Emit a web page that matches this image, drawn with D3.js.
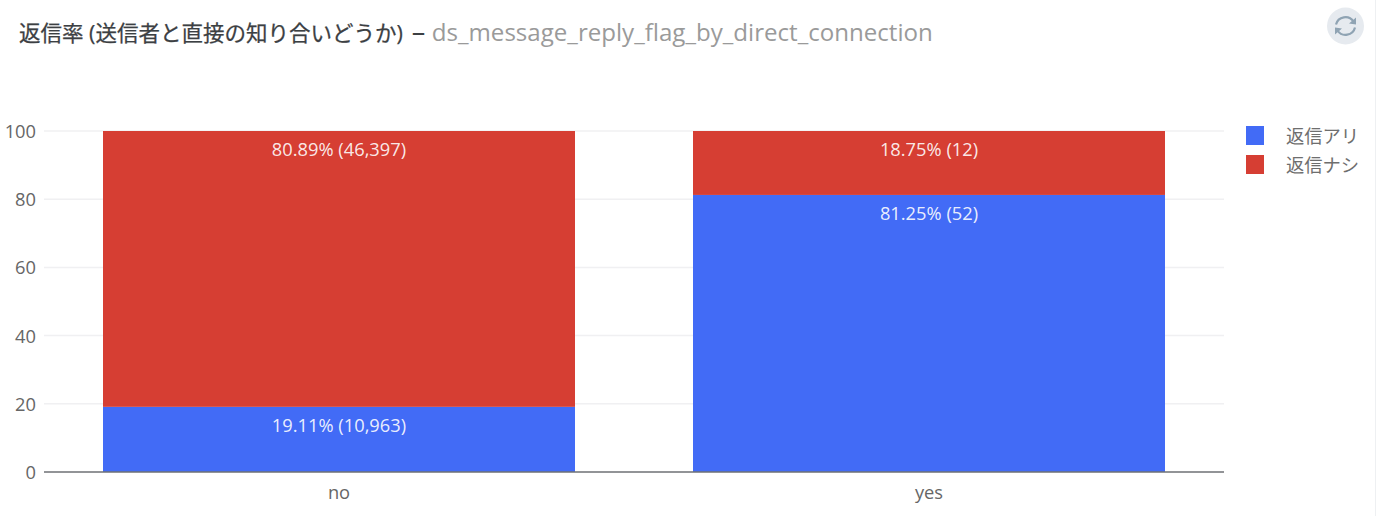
<!DOCTYPE html>
<html><head><meta charset="utf-8">
<script src="https://cdn.jsdelivr.net/npm/d3@7"></script>
<style>html,body{margin:0;padding:0;background:#fff}svg{display:block}text{font-family:"Open Sans","Noto Sans CJK JP",sans-serif}</style>
</head><body><svg id="c" width="1376" height="516"></svg>
<script>
const categories = ["no","yes"];
const seriesNames = ["返信アリ","返信ナシ"];
const replyYesPct = [19.11,81.25];
const replyNoPct = [80.89,18.75];
const replyYesCount = [10963,52];
const replyNoCount = [46397,12];
const yTicks = [0,20,40,60,80,100];
const colors = ["#426bf6","#d63e33"];

const svg = d3.select("#c");
const x = d3.scaleBand().domain(categories).range([44,1224]).paddingInner(0.2).paddingOuter(0.1);
const y = d3.scaleLinear().domain([0,100]).range([472,131]);
const fmt = d3.format(",");

svg.append("rect").attr("x",1375).attr("y",0).attr("width",1).attr("height",516).attr("fill","#eef0f2");

// grid
svg.append("g").selectAll("line").data(yTicks.filter(d=>d>0)).join("line")
  .attr("x1",44).attr("x2",1224).attr("y1",d=>y(d)).attr("y2",d=>y(d))
  .attr("stroke","#f0f0f2").attr("stroke-width",1.5);

// bars
const layers = [
  {pct:replyYesPct,cnt:replyYesCount,base:()=>0,color:colors[0]},
  {pct:replyNoPct,cnt:replyNoCount,base:i=>replyYesPct[i],color:colors[1]}
];
layers.forEach(l=>{
  const g = svg.append("g");
  g.selectAll("rect").data(categories).join("rect")
    .attr("x",d=>x(d)).attr("width",x.bandwidth())
    .attr("y",(d,i)=>y(l.base(i)+l.pct[i]))
    .attr("height",(d,i)=>y(l.base(i))-y(l.base(i)+l.pct[i]))
    .attr("fill",l.color);
  g.selectAll("text").data(categories).join("text")
    .attr("x",d=>x(d)+x.bandwidth()/2)
    .attr("y",(d,i)=>y(l.base(i)+l.pct[i])+25)
    .attr("text-anchor","middle").attr("font-size",18.3).attr("fill","#fff").attr("fill-opacity",0.9)
    .text((d,i)=>`${l.pct[i].toFixed(2)}% (${fmt(l.cnt[i])})`);
});

// axes
const ax = svg.append("g").attr("transform","translate(0,472)").call(d3.axisBottom(x).tickSize(0).tickPadding(14));
ax.select(".domain").attr("d","M44,0H1224").attr("stroke","#6e7075").attr("stroke-width",1.5);
ax.selectAll("text").attr("font-size",18.3).attr("fill","#666");
const ay = svg.append("g").attr("transform","translate(36,0.7)").call(d3.axisLeft(y).tickValues(yTicks).tickSize(0).tickPadding(0));
ay.select(".domain").remove();
ay.selectAll("text").attr("font-size",18.3).attr("fill","#666");

// title
const title = svg.append("text").attr("x",19).attr("y",41);
title.append("tspan").attr("font-size",21.5).attr("fill","#3c4043").attr("stroke","#3c4043").attr("stroke-width",0.25).text("返信率 (送信者と直接の知り合いどうか)");
title.append("tspan").attr("font-size",27).attr("fill","#3c4043").attr("dx",9).text("–");
title.append("tspan").attr("font-size",24.1).attr("fill","#9a9a9a").attr("dx",6.5).text("ds_message_reply_flag_by_direct_connection");

// refresh button
const b = svg.append("g").attr("transform","translate(1345.5,26)");
b.append("circle").attr("r",18.5).attr("fill","#e6eaef");
b.append("path").attr("d","M-9.5,-1.5A9.7,9.7 0 0 1 8,-4.5 M9.5,1.5A9.7,9.7 0 0 1 -8,4.5").attr("fill","none").attr("stroke","#8fa3b3").attr("stroke-width",2.2);
b.append("path").attr("d","M10.5,-8.5L10.5,-1.5L3.5,-2.5Z M-10.5,8.5L-10.5,1.5L-3.5,2.5Z").attr("fill","#8fa3b3");

// legend
const lg = svg.append("g").selectAll("g").data(seriesNames).join("g")
  .attr("transform",(d,i)=>`translate(1246,${126+i*29})`);
lg.append("rect").attr("width",18).attr("height",19).attr("fill",(d,i)=>colors[i]);
lg.append("text").attr("x",40).attr("y",16.5).attr("font-size",18.3).attr("fill","#6e6e6e").text(d=>d);
</script></body></html>
